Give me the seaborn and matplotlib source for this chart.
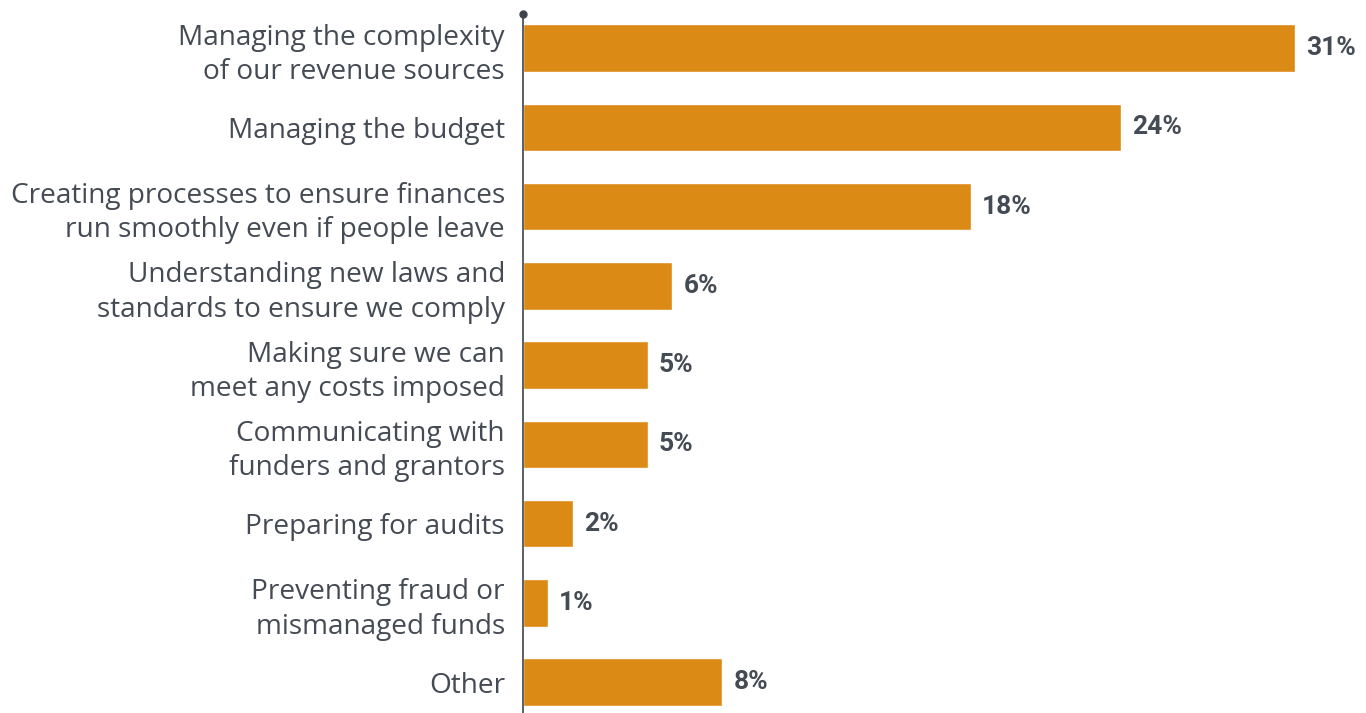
import matplotlib
matplotlib.use("Agg")
import matplotlib.pyplot as plt
import seaborn as sns
import pandas as pd

categories = [
    "Managing the complexity\nof our revenue sources",
    "Managing the budget",
    "Creating processes to ensure finances\nrun smoothly even if people leave",
    "Understanding new laws and\nstandards to ensure we comply",
    "Making sure we can\nmeet any costs imposed",
    "Communicating with\nfunders and grantors",
    "Preparing for audits",
    "Preventing fraud or\nmismanaged funds",
    "Other",
]
values = [31, 24, 18, 6, 5, 5, 2, 1, 8]
value_labels = [f"{v}%" for v in values]

BAR = "#DB8A16"
TEXT = "#454b54"
AXIS = "#3f444c"

sns.set_theme(style="white")
plt.rcParams["font.family"] = ["Open Sans", "DejaVu Sans"]

df = pd.DataFrame({"challenge": categories, "share": values})

fig = plt.figure(figsize=(13.66, 7.13), dpi=100)
ax = fig.add_axes([523 / 1366, 0, (1366 - 523) / 1366, 699 / 713])

sns.barplot(data=df, y="challenge", x="share", orient="h", color=BAR,
            saturation=1, width=0.6, ax=ax)

ax.set_xlim(0, (1366 - 523) / 24.9)
ax.set_ylim(len(categories) - 1 + 0.39, -0.43)

for spine in ["top", "right", "bottom"]:
    ax.spines[spine].set_visible(False)
ax.spines["left"].set_color(AXIS)
ax.spines["left"].set_linewidth(1.2)
ax.plot([0], [-0.43], marker="o", markersize=5, color=AXIS, clip_on=False)

ax.set_xticks([])
ax.set_xlabel("")
ax.set_ylabel("")
ax.tick_params(axis="y", length=0, pad=13, labelsize=20.2, labelcolor=TEXT)
for lbl in ax.get_yticklabels():
    lbl.set_multialignment("right")
    lbl.set_linespacing(1.3)

for i, (v, t) in enumerate(zip(values, value_labels)):
    ax.annotate(t, xy=(v, i), xytext=(8, 0), textcoords="offset points",
                ha="left", va="center", fontsize=19, fontweight="bold",
                color=TEXT, family=["Roboto", "Open Sans"])

fig.savefig("out.png", dpi=100)
